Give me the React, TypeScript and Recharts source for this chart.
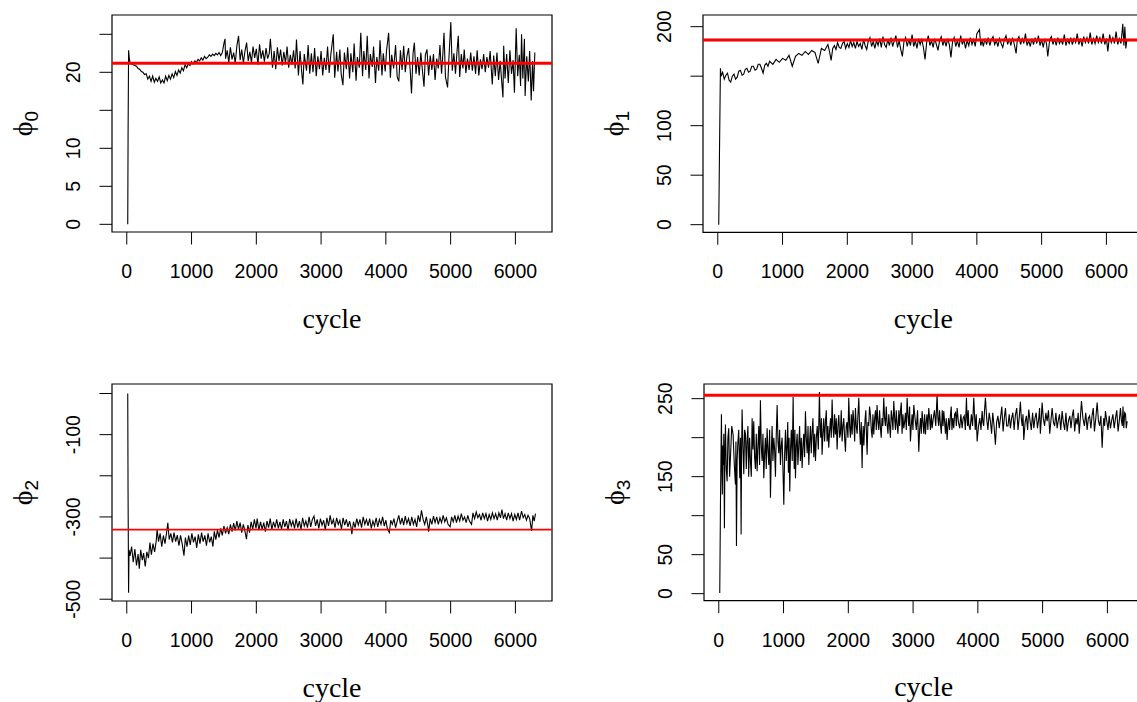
import React from "react";
import { LineChart, Line, XAxis, YAxis, ReferenceLine, ReferenceArea } from "recharts";

// ---------- data (cycle, value) ----------
const PHI0: [number, number][] = [
  [15, 0], [20, 11.3], [28, 22.9], [40, 21.8], [50, 21.3], [75, 21.1], [100, 21.0], [125, 20.9], [150, 20.8], [175, 20.5],
  [200, 20.4], [225, 20.1], [250, 20.0], [275, 19.7], [300, 19.8], [325, 19.1], [350, 19.5], [375, 18.8], [400, 19.5],
  [425, 18.7], [450, 19.2], [475, 18.8], [500, 19.4], [525, 18.6], [550, 19.0], [575, 18.6], [600, 19.5], [625, 18.9],
  [650, 19.6], [675, 19.1], [700, 19.8], [725, 19.3], [750, 20.1], [775, 19.6], [800, 20.3], [825, 19.9], [850, 20.6],
  [875, 20.2], [900, 21.0], [925, 20.6], [950, 21.1], [975, 20.9], [1000, 21.4], [1025, 21.1], [1050, 21.5], [1075, 21.3],
  [1100, 21.7], [1125, 21.5], [1150, 21.9], [1175, 21.6], [1200, 22.1], [1225, 21.8], [1250, 22.0], [1275, 22.3],
  [1300, 22.1], [1325, 22.4], [1350, 22.2], [1375, 22.5], [1400, 22.3], [1425, 22.6], [1450, 22.2],
  [1475, 22.6], [1500, 23.8], [1517, 24.4], [1525, 21.8], [1550, 22.9], [1575, 21.3], [1600, 23.3], [1625, 21.7],
  [1650, 22.6], [1675, 21.2], [1700, 23.5], [1726, 24.8], [1750, 21.6], [1775, 23.0], [1800, 21.2], [1825, 22.8],
  [1850, 23.9], [1875, 21.5], [1900, 22.7], [1925, 21.3], [1950, 23.4], [1975, 21.9], [2000, 23.1], [2025, 21.0],
  [2050, 23.7], [2075, 21.8], [2100, 22.9], [2125, 21.4], [2150, 23.2], [2175, 21.8], [2200, 22.5], [2217, 24.4],
  [2250, 20.6], [2275, 22.8], [2300, 20.4], [2325, 23.3], [2350, 21.5], [2375, 23.0], [2400, 20.9], [2425, 22.7],
  [2450, 21.2], [2475, 23.4], [2500, 20.6], [2525, 22.3], [2550, 21.0], [2575, 22.9], [2600, 20.5], [2620, 24.3],
  [2650, 19.6], [2675, 22.8], [2700, 20.1], [2719, 18.4], [2740, 22.4], [2775, 20.2], [2800, 23.6], [2825, 19.8],
  [2850, 22.5], [2875, 20.0], [2900, 23.2], [2925, 19.5], [2950, 22.1], [2975, 20.4], [3000, 22.8], [3025, 19.6],
  [3050, 21.9], [3075, 20.3], [3100, 23.4], [3125, 19.9], [3150, 22.3], [3188, 25.0], [3210, 19.3], [3240, 22.7],
  [3260, 20.1], [3290, 23.0], [3310, 19.8], [3337, 18.3], [3360, 22.6], [3390, 20.4], [3410, 23.3], [3440, 19.2],
  [3460, 22.5], [3490, 20.0], [3510, 23.8], [3540, 18.9], [3560, 22.0], [3590, 20.6], [3613, 25.2], [3640, 19.5],
  [3660, 22.8], [3690, 20.3], [3712, 24.8], [3740, 19.2], [3760, 22.4], [3790, 20.7], [3810, 23.4], [3840, 18.6],
  [3860, 22.0], [3890, 20.2], [3910, 24.2], [3940, 19.6], [3960, 22.5], [3990, 20.1], [4010, 22.8], [4043, 25.2],
  [4070, 19.3], [4090, 22.3], [4120, 20.5], [4150, 23.6], [4175, 19.4], [4200, 18.8], [4225, 22.9], [4250, 20.3],
  [4275, 23.5], [4300, 20.0], [4325, 22.1], [4350, 23.2], [4375, 20.4], [4396, 17.2], [4420, 22.5], [4440, 23.9],
  [4465, 19.8], [4490, 22.0], [4515, 19.6], [4540, 22.6], [4565, 20.2], [4589, 18.1], [4610, 22.3], [4635, 23.0],
  [4660, 19.6], [4685, 22.2], [4710, 20.3], [4735, 22.4], [4760, 19.0], [4785, 21.8], [4810, 20.5], [4835, 23.6],
  [4860, 19.8], [4880, 22.4], [4898, 25.2], [4920, 19.4], [4953, 18.0], [4975, 22.1], [5003, 26.6], [5025, 20.2],
  [5050, 22.5], [5075, 19.8], [5100, 22.9], [5118, 24.8], [5140, 19.4], [5165, 22.4], [5190, 20.5], [5210, 23.0],
  [5235, 19.9], [5260, 21.8], [5285, 20.3], [5310, 22.6], [5335, 20.2], [5360, 22.1], [5385, 19.8], [5410, 22.9],
  [5435, 19.6], [5460, 21.7], [5485, 20.4], [5510, 22.4], [5535, 20.0], [5560, 22.0], [5585, 20.6], [5610, 22.8],
  [5643, 18.4], [5665, 22.2], [5690, 19.5], [5715, 22.6], [5740, 19.0], [5765, 21.5], [5790, 18.6], [5808, 16.7],
  [5819, 23.5], [5840, 19.2], [5865, 22.4], [5890, 18.6], [5915, 22.9], [5940, 19.8], [5965, 21.6], [5985, 17.3],
  [6012, 25.8], [6035, 19.5], [6060, 22.3], [6080, 18.2], [6095, 25.0], [6115, 19.2], [6139, 24.4], [6150, 16.9],
  [6175, 22.1], [6200, 18.8], [6220, 22.8], [6244, 16.3], [6265, 21.5], [6280, 17.5], [6300, 22.6],
];

const PHI1: [number, number][] = [
  [15, 0], [26, 70], [41, 158], [50, 150], [75, 154], [100, 147], [125, 151], [150, 153], [175, 146], [200, 144],
  [225, 150], [250, 152], [275, 147], [300, 149], [325, 155], [350, 156], [375, 151], [400, 152], [425, 157], [450, 158],
  [475, 154], [500, 155], [525, 160], [550, 160], [575, 156], [600, 157], [625, 162], [650, 162], [675, 158],
  [700, 153], [725, 161], [750, 163], [775, 160], [800, 165], [850, 162], [900, 167], [950, 164], [1000, 168],
  [1050, 166], [1100, 171], [1150, 160], [1200, 170], [1250, 173], [1300, 171], [1350, 175], [1400, 172], [1450, 176],
  [1500, 174], [1550, 163], [1600, 178], [1650, 176],
  [1700, 182], [1725, 175], [1750, 166], [1775, 178], [1800, 181], [1825, 177], [1850, 184], [1875, 179], [1900, 178],
  [1925, 183], [1950, 185], [1975, 178], [2000, 183], [2025, 179], [2050, 186], [2075, 180], [2100, 184], [2125, 178],
  [2150, 185], [2175, 180], [2200, 183], [2225, 177], [2250, 187], [2275, 181], [2300, 177], [2325, 186], [2350, 189],
  [2375, 180], [2400, 185], [2425, 178], [2450, 186], [2475, 181], [2500, 188], [2525, 179], [2550, 190], [2575, 182],
  [2600, 179], [2625, 187], [2650, 181], [2675, 189], [2700, 180], [2725, 186], [2750, 191], [2775, 179], [2800, 186],
  [2825, 177], [2850, 170], [2875, 185], [2900, 189], [2925, 180], [2950, 187], [2975, 181], [3000, 192], [3025, 180],
  [3050, 186], [3075, 178], [3100, 188], [3125, 182], [3150, 187], [3175, 179], [3200, 167], [3225, 184], [3250, 191],
  [3275, 181], [3300, 186], [3325, 179], [3350, 188], [3375, 182], [3400, 176], [3425, 186], [3450, 190], [3475, 181],
  [3500, 187], [3525, 180], [3550, 188], [3575, 182], [3600, 169], [3625, 185], [3650, 189], [3675, 180], [3700, 186],
  [3725, 179], [3750, 191], [3775, 182], [3800, 187], [3825, 178], [3850, 186], [3875, 181], [3900, 189], [3925, 182],
  [3950, 187], [3975, 180], [4000, 193], [4040, 197], [4060, 181], [4080, 186], [4100, 180], [4125, 188], [4150, 182],
  [4175, 189], [4200, 181], [4225, 187], [4250, 190], [4275, 182], [4300, 186], [4325, 180], [4350, 188], [4375, 183],
  [4400, 179], [4425, 187], [4450, 191], [4475, 182], [4500, 188], [4525, 181], [4550, 189], [4575, 183], [4606, 173],
  [4625, 187], [4650, 190], [4675, 182], [4700, 188], [4725, 183], [4750, 193], [4775, 181], [4800, 186], [4825, 180],
  [4850, 188], [4875, 182], [4900, 189], [4925, 183], [4950, 191], [4975, 181], [5000, 187], [5025, 179], [5050, 188],
  [5075, 183], [5095, 170], [5125, 187], [5150, 190], [5175, 182], [5200, 188], [5225, 181], [5250, 189], [5275, 183],
  [5300, 187], [5325, 182], [5350, 192], [5375, 181], [5400, 187], [5425, 183], [5450, 189], [5475, 182], [5500, 188],
  [5525, 184], [5550, 193], [5575, 182], [5600, 188], [5625, 180], [5650, 190], [5675, 184], [5700, 189], [5725, 183],
  [5750, 194], [5775, 182], [5800, 188], [5825, 183], [5850, 191], [5875, 184], [5900, 189], [5925, 183], [5950, 193],
  [5975, 182], [6000, 188], [6022, 175], [6050, 192], [6075, 184], [6100, 189], [6125, 183], [6150, 195], [6175, 182],
  [6200, 188], [6225, 183], [6253, 203], [6270, 181], [6285, 200], [6300, 178], [6315, 186],
];

const PHI2: [number, number][] = [
  [15, 0], [20, -242], [28, -484], [35, -380], [50, -395], [75, -372], [100, -410], [125, -378], [150, -418],
  [175, -390], [193, -426], [215, -380], [240, -405], [260, -388], [285, -420], [310, -385], [335, -400], [358, -362],
  [380, -392], [405, -365], [430, -385], [455, -358], [469, -330], [490, -360], [515, -340], [540, -372], [565, -345],
  [590, -365], [615, -338], [634, -314], [655, -355], [680, -340], [705, -362], [730, -338], [755, -360], [780, -344],
  [805, -370], [830, -345], [855, -365], [883, -394], [905, -350], [930, -372], [955, -345], [980, -368], [1005, -340],
  [1030, -362], [1055, -348], [1080, -375], [1105, -342], [1130, -365], [1155, -338], [1180, -360], [1205, -345],
  [1230, -370], [1255, -340], [1280, -362], [1305, -348], [1330, -372], [1351, -335], [1375, -355], [1400, -332],
  [1425, -350], [1450, -328], [1475, -345], [1500, -322], [1525, -340], [1550, -326], [1575, -342], [1600, -318],
  [1625, -336], [1650, -315], [1675, -333], [1700, -310], [1725, -330], [1750, -314], [1775, -338], [1800, -318],
  [1825, -335], [1848, -354], [1870, -320], [1895, -338], [1920, -312], [1945, -330], [1970, -306], [1995, -328],
  [2013, -304], [2040, -332], [2065, -312], [2090, -330], [2115, -314], [2140, -336], [2165, -310], [2190, -326],
  [2215, -304], [2240, -330], [2265, -312], [2290, -326], [2315, -306], [2340, -328], [2365, -312], [2390, -330],
  [2415, -306], [2440, -324], [2465, -310], [2490, -332], [2515, -305], [2540, -322], [2565, -310], [2590, -328],
  [2615, -304], [2640, -326], [2665, -310], [2690, -330], [2715, -302], [2740, -322], [2765, -310], [2790, -326],
  [2815, -300], [2840, -324], [2865, -306], [2890, -298], [2915, -322], [2940, -306], [2965, -328], [2990, -304],
  [3015, -320], [3040, -308], [3065, -332], [3090, -302], [3115, -322], [3140, -296], [3165, -318], [3190, -306],
  [3215, -326], [3240, -302], [3265, -318], [3290, -308], [3315, -330], [3340, -302], [3365, -320], [3390, -306],
  [3415, -324], [3440, -310], [3465, -328], [3475, -342], [3500, -312], [3525, -326], [3550, -304], [3575, -320],
  [3600, -306], [3625, -326], [3650, -300], [3675, -318], [3700, -306], [3725, -322], [3750, -304], [3775, -328],
  [3800, -310], [3825, -322], [3850, -302], [3875, -324], [3900, -306], [3925, -318], [3950, -300], [3975, -322],
  [4000, -308], [4025, -330], [4054, -338], [4075, -308], [4100, -318], [4125, -304], [4150, -326], [4175, -310],
  [4200, -296], [4225, -318], [4250, -302], [4275, -320], [4300, -298], [4325, -316], [4350, -304], [4375, -322],
  [4400, -300], [4425, -318], [4450, -306], [4475, -324], [4500, -296], [4525, -312], [4550, -284], [4575, -306],
  [4600, -318], [4625, -300], [4650, -322], [4660, -336], [4685, -304], [4710, -318], [4735, -298], [4760, -314],
  [4785, -300], [4810, -318], [4835, -302], [4860, -314], [4885, -296], [4910, -312], [4935, -302], [4960, -318],
  [4992, -324], [5015, -300], [5040, -312], [5065, -296], [5090, -314], [5115, -298], [5140, -310], [5165, -292],
  [5190, -308], [5215, -300], [5240, -314], [5265, -296], [5290, -310], [5323, -318], [5345, -290], [5370, -304],
  [5395, -288], [5420, -302], [5445, -294], [5470, -308], [5495, -290], [5520, -304], [5545, -292], [5570, -310],
  [5595, -294], [5620, -306], [5645, -290], [5670, -304], [5695, -292], [5720, -308], [5745, -290], [5770, -302],
  [5792, -282], [5815, -304], [5840, -292], [5865, -308], [5890, -290], [5915, -304], [5940, -292], [5965, -310],
  [5990, -294], [6015, -306], [6040, -290], [6065, -308], [6095, -286], [6120, -302], [6145, -294], [6170, -308],
  [6195, -296], [6220, -304], [6250, -334], [6270, -296], [6290, -310], [6310, -292],
];

const PHI3: [number, number][] = [
  [15, 1], [26, 114], [41, 230], [48, 160], [55, 127], [62, 190], [70, 165], [78, 205], [87, 84], [95, 180], [103, 217],
  [116, 160], [129, 144], [141, 200], [154, 212], [167, 150], [180, 174], [200, 215], [221, 204], [240, 165], [257, 140],
  [265, 195], [273, 61], [283, 170], [293, 191], [308, 210], [324, 148], [335, 200], [345, 76], [352, 180], [360, 236],
  [373, 190], [386, 153], [399, 210], [412, 205], [425, 160], [437, 195], [450, 215], [462, 150], [476, 200], [489, 170],
  [502, 150], [515, 225], [528, 185], [540, 221], [553, 175], [566, 160], [579, 205], [592, 157], [605, 190], [618, 215],
  [630, 165], [643, 248], [656, 190], [669, 170], [682, 205], [695, 148], [708, 180], [720, 200], [733, 160], [746, 212],
  [759, 185], [772, 165], [785, 210], [798, 123], [811, 180], [823, 215], [836, 170], [849, 200], [862, 185], [875, 150],
  [888, 205], [901, 242], [914, 195], [926, 180], [939, 210], [952, 165], [965, 190], [978, 200], [991, 160], [1004, 114],
  [1017, 180], [1030, 210], [1042, 170], [1055, 191], [1065, 220], [1075, 155], [1085, 200], [1096, 131], [1108, 185],
  [1120, 210], [1134, 170], [1148, 252], [1156, 195], [1165, 160], [1175, 210], [1184, 148], [1197, 190], [1210, 205],
  [1222, 165], [1235, 191], [1248, 215], [1260, 170], [1274, 200], [1287, 161], [1300, 190], [1312, 205], [1325, 175],
  [1338, 234], [1351, 200], [1365, 180], [1378, 215], [1390, 165], [1403, 195], [1415, 215], [1428, 180], [1441, 208],
  [1454, 225], [1467, 175], [1480, 205], [1493, 170], [1506, 200], [1520, 215], [1537, 185], [1554, 258.6], [1565, 210],
  [1575, 200], [1585, 225], [1595, 178], [1608, 205], [1620, 225], [1634, 195], [1647, 221], [1660, 235], [1672, 195],
  [1685, 215], [1698, 187], [1712, 210], [1725, 225], [1737, 200], [1750, 249], [1762, 215], [1775, 200], [1788, 230],
  [1801, 204], [1814, 225], [1827, 185], [1840, 215], [1853, 229], [1866, 200], [1878, 205], [1891, 235], [1904, 195],
  [1917, 215], [1930, 225], [1943, 200], [1956, 182], [1968, 215], [1980, 220], [1994, 200], [2007, 251], [2020, 215],
  [2033, 200], [2046, 230], [2059, 204], [2072, 235], [2085, 222], [2098, 195], [2110, 238], [2123, 215], [2136, 205],
  [2149, 230], [2162, 251], [2175, 210], [2187, 191], [2200, 220], [2213, 161], [2222, 200], [2230, 215], [2240, 190],
  [2249, 208], [2260, 225], [2270, 235], [2280, 205], [2290, 178], [2303, 220], [2315, 215], [2328, 240], [2342, 229],
  [2355, 210], [2368, 200], [2380, 230], [2393, 204], [2407, 225], [2420, 235], [2432, 210], [2444, 242], [2457, 220],
  [2470, 210], [2483, 235], [2496, 212], [2508, 200], [2520, 225], [2533, 215], [2547, 251], [2560, 225], [2573, 215],
  [2586, 240], [2599, 217], [2612, 205], [2625, 230], [2638, 215], [2650, 200], [2663, 235], [2676, 225], [2689, 210],
  [2702, 247], [2715, 225], [2728, 210], [2740, 235], [2753, 217], [2766, 205], [2780, 235], [2792, 215], [2805, 234],
  [2818, 245], [2830, 205], [2843, 230], [2856, 212], [2869, 220], [2882, 232], [2895, 210], [2908, 251], [2920, 230],
  [2933, 215], [2946, 240], [2959, 195], [2972, 215], [2985, 230], [2998, 210], [3011, 242], [3030, 225], [3050, 210],
  [3069, 235], [3088, 182], [3101, 210], [3115, 225], [3127, 205], [3139, 234], [3152, 220], [3165, 205], [3178, 230],
  [3191, 204], [3203, 220], [3215, 230], [3228, 210], [3242, 238], [3255, 225], [3268, 210], [3281, 230], [3294, 212],
  [3312, 225], [3330, 235], [3350, 215], [3371, 256], [3383, 225], [3395, 215], [3408, 235], [3422, 217], [3436, 205],
  [3450, 235], [3462, 215], [3474, 234], [3487, 220], [3500, 205], [3512, 225], [3525, 197], [3538, 215], [3550, 225],
  [3563, 210], [3577, 229], [3589, 240], [3600, 210], [3614, 225], [3628, 212], [3641, 230], [3655, 232], [3668, 215],
  [3680, 238], [3700, 220], [3720, 212], [3738, 230], [3757, 212], [3773, 225], [3790, 228], [3807, 210], [3824, 251],
  [3833, 225], [3842, 215], [3851, 235], [3860, 217], [3880, 210], [3900, 230], [3918, 215], [3937, 251], [3948, 230],
  [3960, 210], [3975, 230], [3989, 195], [4010, 215], [4030, 225], [4048, 210], [4066, 234], [4078, 220], [4090, 215],
  [4103, 235], [4117, 251], [4136, 225], [4155, 210], [4175, 232], [4194, 221], [4212, 205], [4230, 232], [4250, 215],
  [4271, 191], [4290, 220], [4310, 228], [4330, 212], [4349, 225], [4370, 240], [4390, 208], [4408, 225], [4426, 238],
  [4445, 215], [4465, 215], [4484, 230], [4503, 212], [4521, 225], [4540, 232], [4560, 210], [4580, 229], [4600, 238],
  [4620, 210], [4638, 225], [4657, 246], [4671, 225], [4685, 215], [4697, 230], [4709, 197], [4730, 220], [4750, 228],
  [4768, 210], [4786, 236], [4805, 222], [4825, 210], [4845, 232], [4864, 212], [4882, 225], [4900, 232], [4920, 212],
  [4941, 225], [4953, 238], [4965, 205], [4978, 222], [4992, 245], [5010, 225], [5030, 215], [5050, 232], [5069, 221],
  [5090, 235], [5110, 205], [5128, 222], [5147, 238], [5166, 220], [5185, 215], [5205, 232], [5224, 212], [5242, 222],
  [5260, 230], [5280, 210], [5301, 234], [5320, 220], [5340, 210], [5360, 232], [5378, 208], [5400, 222], [5420, 228],
  [5438, 212], [5456, 227], [5475, 236], [5495, 208], [5514, 225], [5533, 217], [5549, 232], [5565, 205], [5582, 225],
  [5600, 247], [5622, 225], [5645, 215], [5666, 232], [5687, 210], [5706, 225], [5725, 228], [5745, 212], [5764, 229],
  [5782, 238], [5800, 208], [5821, 225], [5842, 245], [5861, 222], [5880, 215], [5900, 228], [5919, 187], [5932, 212],
  [5945, 225], [5958, 215], [5970, 234], [5990, 222], [6010, 210], [6028, 228], [6047, 212], [6066, 222], [6085, 230],
  [6105, 212], [6125, 225], [6145, 235], [6165, 208], [6184, 222], [6202, 238], [6216, 222], [6230, 215], [6241, 240],
  [6253, 212], [6267, 232], [6280, 230], [6292, 212], [6305, 221],
];

// reference (red) values
const RED_VALUES = [21.2, 186.5, -331, 254.4];

// ticks
const X_TICKS = [0, 1000, 2000, 3000, 4000, 5000, 6000];
const Y0_TICKS = [0, 5, 10, 15, 20, 25];
const Y0_LABELS = [0, 5, 10, 20];
const Y1_TICKS = [0, 50, 100, 150, 200];
const Y1_LABELS = [0, 50, 100, 200];
const Y2_TICKS = [-500, -400, -300, -200, -100, 0];
const Y2_LABELS = [-500, -300, -100];
const Y3_TICKS = [0, 50, 100, 150, 200, 250];
const Y3_LABELS = [0, 50, 150, 250];
const SUBSCRIPTS = ["0", "1", "2", "3"];
const X_TITLE = "cycle";

// ---------- layout ----------
const X_DOMAIN: [number, number] = [-228, 6565];
const YW = 60;
const MT = 5;
const MR = 5;
const XH = 60;
const TICK = 12.5;
const SANS = "'Liberation Sans', Arial, Helvetica, sans-serif";
const SERIF = "'Liberation Serif', 'Times New Roman', 'DejaVu Serif', serif";

const PANELS = [
  { series: PHI0, left: 112, top: 15, w: 440, h: 217, yDomain: [-1.01, 27.54], yTicks: Y0_TICKS, yLabels: Y0_LABELS, red: RED_VALUES[0], redW: 3, sub: SUBSCRIPTS[0] },
  { series: PHI1, left: 703.3, top: 15, w: 440, h: 217.3, yDomain: [-7.7, 211.8], yTicks: Y1_TICKS, yLabels: Y1_LABELS, red: RED_VALUES[1], redW: 3, sub: SUBSCRIPTS[1] },
  { series: PHI2, left: 112, top: 384, w: 440, h: 217, yDomain: [-504.3, 23.1], yTicks: Y2_TICKS, yLabels: Y2_LABELS, red: RED_VALUES[2], redW: 1.8, sub: SUBSCRIPTS[2] },
  { series: PHI3, left: 703.7, top: 384, w: 440, h: 216.7, yDomain: [-9, 268.8], yTicks: Y3_TICKS, yLabels: Y3_LABELS, red: RED_VALUES[3], redW: 3, sub: SUBSCRIPTS[3] },
];

const XTick = (props: any) => {
  const { x, y, payload } = props;
  return (
    <text x={x} y={y + 33.5} textAnchor="middle" fontFamily={SANS} fontSize={19.5} fill="#000">
      {payload.value}
    </text>
  );
};

const makeYTick = (labels: number[]) => (props: any) => {
  const { x, y, payload } = props;
  if (!labels.includes(payload.value)) return <g />;
  const bx = x - 19.5;
  return (
    <text x={bx} y={y} transform={`rotate(-90 ${bx} ${y})`} textAnchor="middle" fontFamily={SANS} fontSize={19.5} fill="#000">
      {payload.value}
    </text>
  );
};

function Panel({ p }: { p: any }) {
  const data = p.series.map(([c, v]: [number, number]) => ({ c, v }));
  return (
    <div style={{ position: "absolute", left: p.left - YW, top: p.top - MT }}>
      <LineChart width={YW + p.w + MR} height={MT + p.h + XH} data={data} margin={{ top: MT, right: MR, left: 0, bottom: 0 }}>
        <XAxis
          dataKey="c"
          type="number"
          domain={X_DOMAIN}
          ticks={X_TICKS}
          interval={0}
          allowDataOverflow
          axisLine={false}
          tickLine={{ stroke: "#000", strokeWidth: 1 }}
          tickSize={TICK}
          tickMargin={0}
          height={XH}
          tick={XTick}
        />
        <YAxis
          type="number"
          domain={p.yDomain}
          ticks={p.yTicks}
          interval={0}
          allowDataOverflow
          axisLine={false}
          tickLine={{ stroke: "#000", strokeWidth: 1 }}
          tickSize={TICK}
          tickMargin={0}
          width={YW}
          tick={makeYTick(p.yLabels)}
        />
        <ReferenceArea
          x1={X_DOMAIN[0]}
          x2={X_DOMAIN[1]}
          y1={p.yDomain[0]}
          y2={p.yDomain[1]}
          fill="none"
          fillOpacity={0}
          stroke="#000"
          strokeWidth={1.2}
          ifOverflow="visible"
        />
        <Line type="linear" dataKey="v" stroke="#000" strokeWidth={1.1} dot={false} isAnimationActive={false} />
        <ReferenceLine y={p.red} stroke="#ff0000" strokeWidth={p.redW} ifOverflow="visible" />
      </LineChart>
    </div>
  );
}

export default function App() {
  return (
    <div style={{ position: "absolute", left: 0, top: 0, width: 1137, height: 702, overflow: "hidden", background: "#fff" }}>
      {PANELS.map((p, i) => (
        <Panel key={i} p={p} />
      ))}
      <svg width={1137} height={702} style={{ position: "absolute", left: 0, top: 0, pointerEvents: "none" }}>
        {PANELS.map((p, i) => {
          const cx = p.left + p.w / 2;
          const by = p.top + p.h + 95.5;
          const lx = p.left - 80;
          const ly = p.top + p.h / 2;
          return (
            <g key={i}>
              <text x={cx} y={by} textAnchor="middle" fontFamily={SERIF} fontSize={28} fill="#000">
                {X_TITLE}
              </text>
              <text x={lx} y={ly} transform={`rotate(-90 ${lx} ${ly})`} textAnchor="middle" fill="#000">
                <tspan fontFamily={SERIF} fontSize={28}>ϕ</tspan>
                <tspan fontFamily={SANS} fontSize={19} dy={6}>{p.sub}</tspan>
              </text>
            </g>
          );
        })}
      </svg>
    </div>
  );
}
